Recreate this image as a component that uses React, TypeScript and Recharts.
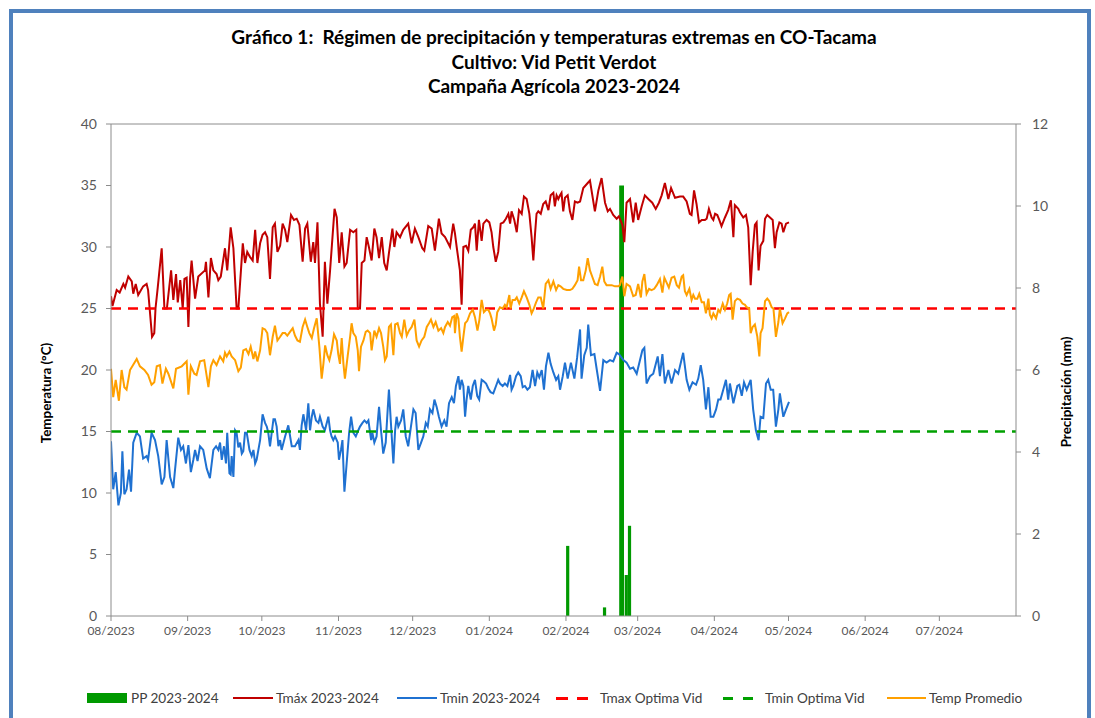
import React from 'react';
import { ComposedChart, Bar, Line, XAxis, YAxis, ReferenceLine } from 'recharts';

// days counted from 2023-08-01
const monthDays = [0, 31, 61, 92, 122, 153, 184, 213, 244, 274, 305, 335];
const monthLabels = ['08/2023', '09/2023', '10/2023', '11/2023', '12/2023', '01/2024', '02/2024', '03/2024', '04/2024', '05/2024', '06/2024', '07/2024'];
const tempTicks = [0, 5, 10, 15, 20, 25, 30, 35, 40];
const ppTicks = [0, 2, 4, 6, 8, 10, 12];

const tmaxOptima = 25;
const tminOptima = 15;

// [day, mm]
const pp: [number, number][] = [[184.7, 1.71], [199.6, 0.21], [206.5, 10.5], [208.4, 1.0], [209.7, 2.2]];

// [day, °C]
const tmax: [number, number][] = [
  [0, 26.0], [0.6, 25.2], [2.3, 26.5], [3.5, 26.3], [5, 27.0], [5.7, 26.7], [7, 27.6], [8.4, 27.2], [9, 26.2], [10, 27.0], [11, 26.1], [13, 26.8], [14.4, 27.0], [15, 26.5], [16.6, 22.7], [17.5, 23.0], [18, 25.0], [18.9, 26.7], [20.5, 29.9], [21.6, 25.0], [22.6, 25.0], [24.3, 28.1], [25.2, 25.7], [26.3, 27.8], [27, 25.5], [28, 27.3], [29, 25.0], [29.7, 27.4], [30.6, 27.5], [31.3, 23.5], [32, 27.5], [32.6, 28.9], [34, 25.8], [35.3, 27.6], [38, 28.1], [38.4, 28.8], [39.4, 25.9], [40.4, 29.1], [41.4, 28.1], [42.7, 27.8], [43.4, 27.3], [44.4, 27.6],
  [46.1, 29.9], [47, 28.1], [48.4, 31.6], [49.5, 29.9], [50.8, 25.0], [51.5, 25.0], [53.3, 30.3], [54.2, 28.7], [55.1, 29.6], [56.2, 29.2], [57.3, 28.9], [58.3, 31.4], [59.2, 28.7], [60.3, 30.3], [61.3, 31.0], [62.3, 31.2], [63.2, 30.8], [64.3, 27.4], [65.4, 31.6], [66.3, 31.9], [67.3, 29.6], [68.4, 30.1], [69.4, 31.9], [70.4, 31.4], [71.3, 30.4], [72.8, 32.6], [74, 32.2], [75.1, 32.3], [76.2, 31.8], [77.5, 28.8], [78.5, 31.5], [79.4, 31.9], [80.8, 28.8], [81.8, 30.4], [82.5, 28.7], [83.5, 32.0], [84.5, 25.4], [85.6, 22.7], [86.5, 28.8], [87.5, 25.4], [88.6, 28.1],
  [90.4, 33.1], [91.3, 32.4], [92.3, 28.7], [93.3, 31.2], [94.4, 28.4], [95.3, 28.7], [96.7, 31.4], [98, 31.2], [99.2, 31.4], [99.8, 25.0], [100.7, 25.0], [101.4, 28.7], [102.5, 28.9], [103.4, 30.8], [104.3, 30.0], [105.4, 28.9], [106.5, 31.5], [107.4, 30.8], [108.4, 29.1], [109.5, 30.8], [110.5, 28.7], [111.5, 28.1], [112.4, 29.5], [113.8, 31.5], [114.6, 30.0], [115.5, 31.2], [116.9, 30.8], [118.2, 31.4], [120.2, 31.9], [121.6, 30.3], [122.9, 31.5], [124.3, 30.8], [125.9, 29.9], [126.7, 29.7], [128.3, 31.7], [129.7, 31.5], [131, 29.7], [132.6, 32.3], [133.7, 31.1], [135.1, 30.8], [137.1, 30.0],
  [138.4, 31.9], [139.1, 31.1], [139.8, 30.0], [141.1, 28.1], [141.8, 25.3], [142.5, 30.0], [143.6, 30.1], [144.5, 29.7], [145.5, 31.4], [146.5, 31.6], [147.2, 31.9], [147.9, 29.7], [148.8, 32.2], [149.9, 30.5], [150.6, 31.9], [151.9, 32.2], [153, 32.0], [153.9, 31.2], [154.6, 30.0], [155.6, 28.8], [156.6, 29.6], [157.6, 31.9], [158.7, 32.0], [159.7, 32.3], [160.7, 32.7], [161.4, 31.9], [162, 32.9], [163.1, 32.2], [164.1, 31.2], [165, 33.0], [166.1, 32.7], [167, 34.1], [168.1, 33.9], [169.2, 32.7], [170.1, 30.8], [170.8, 28.9], [171.5, 31.1], [172.1, 32.7], [172.8, 32.9], [173.8, 32.7], [174.8, 33.5], [175.8, 33.7], [176.9, 33.0], [177.8, 34.2], [178.9, 34.4], [179.5, 33.3], [180.2, 34.2], [180.9, 33.9], [181.6, 34.2], [182.2, 34.4], [182.9, 32.9], [183.6, 34.0],
  [184.7, 34.2], [185.6, 32.9], [186.6, 32.2], [187.6, 33.7], [188.7, 33.6], [189.7, 33.7], [191, 34.8], [192.8, 35.2], [193.7, 35.4], [195.7, 32.9], [197.1, 34.6], [198.4, 35.6], [199.8, 33.6], [200.9, 32.9], [201.8, 33.1], [203.1, 32.6], [204.5, 32.3], [205.4, 32.5], [206.8, 31.8], [207.6, 30.4], [208.5, 33.6], [209.9, 33.9], [211.2, 32.0], [212.2, 33.6], [213.2, 32.2], [214.6, 33.3], [215.9, 34.2], [217.3, 33.9], [218.9, 33.6], [220.3, 33.1], [221.6, 33.6], [222.7, 34.2], [224, 35.2], [225.4, 33.9], [226.5, 34.8], [228.1, 34.0], [230.1, 34.1],
  [231.4, 34.1], [232.8, 33.7], [234.1, 32.7], [234.8, 32.6], [235.8, 34.6], [236.8, 33.5], [237.8, 32.0], [238.9, 32.2], [240.2, 32.2], [240.9, 32.3], [241.8, 33.1], [242.9, 32.4], [243.6, 32.2], [244.3, 32.7], [245.2, 32.6], [246, 32.2], [246.9, 31.7], [248.3, 32.4], [249.6, 33.0], [250.7, 33.8], [251.7, 30.8], [252.3, 33.4], [253.7, 33.1], [254.4, 32.8], [255.7, 32.4], [256.8, 32.6], [257.7, 31.6], [258.7, 26.9], [259.5, 29.6], [260.4, 31.8], [261.1, 32.0], [261.9, 28.1], [262.7, 30.1], [263.8, 30.5], [264.5, 32.3], [265.4, 32.6], [266.5, 32.4], [267.6, 32.2], [268.5, 29.9], [269.2, 31.2], [270.3, 32.0], [271.2, 31.9], [271.9, 31.2], [273, 31.9], [274.2, 32.0],
];

const tmin: [number, number][] = [
  [0, 14.2], [0.9, 10.3], [1.9, 11.7], [3, 9.0], [4, 10.0], [4.6, 13.4], [5.4, 9.9], [6.3, 10.3], [7.3, 11.9], [8.1, 10.1], [9, 14.1], [10.4, 14.9], [11.7, 14.6], [13, 12.8], [14.4, 13.0], [15, 12.7], [16.4, 14.9], [17.8, 14.3], [19.1, 13.0], [20.5, 10.7], [21.6, 11.3], [22.5, 14.3], [23.9, 11.3], [25.2, 10.4], [25.9, 11.9], [27.2, 14.5], [28.3, 13.5], [29.2, 13.8], [30.3, 12.4], [31.3, 13.9], [32.3, 11.7], [33.3, 12.7], [34, 13.5], [35, 12.6], [36, 13.8], [37.3, 13.5], [38.7, 12.0], [40, 11.2], [41.4, 13.5], [42.5, 13.8], [43.4, 13.5], [44.1, 14.1],
  [44.8, 12.7], [45.7, 13.8], [46.5, 12.4], [47, 14.9], [47.9, 11.6], [48.4, 11.5], [48.8, 13.0], [49.5, 11.3], [50.2, 15.1], [50.8, 14.9], [51.5, 13.7], [52.2, 14.1], [52.9, 13.2], [53.5, 13.4], [54.2, 14.9], [54.9, 14.9], [56, 13.5], [56.9, 13.0], [57.6, 13.5], [58.3, 12.4], [58.9, 12.7], [60.3, 14.3], [61.3, 16.4], [62.3, 15.7], [63, 15.4], [63.6, 14.9], [64.3, 13.8], [65, 14.9], [65.7, 16.0], [66.3, 16.0], [67, 15.4], [67.7, 13.8], [68.4, 14.3], [69, 13.5], [70.4, 14.6], [71.7, 15.5], [73.1, 13.8], [74.4, 13.8], [75.8, 14.3], [76.4, 13.5], [77.1, 15.5], [77.8, 16.4], [78.9, 15.1], [79.8, 17.3], [80.5, 15.1], [81.2, 16.2], [81.8, 16.8], [82.9, 15.9], [83.9, 15.7], [84.5, 16.2], [85.6, 15.4], [86.5, 15.1], [87.9, 16.2], [88.6, 15.1], [89.2, 14.6], [89.9, 14.3],
  [90.6, 14.6], [91.7, 14.1], [92.2, 12.7], [93, 13.5], [93.6, 14.3], [94.4, 10.1], [95.3, 12.4], [96.3, 14.9], [97.1, 16.2], [98, 14.9], [99, 14.6], [99.8, 15.0], [100.7, 15.4], [101.7, 15.7], [102.5, 15.9], [103.4, 15.7], [104.1, 15.9], [105.2, 14.3], [105.7, 14.9], [106.5, 14.1], [107.4, 14.6], [108.4, 17.0], [109.2, 15.1], [110.1, 13.2], [111.1, 14.1], [111.9, 16.8], [112.4, 18.4], [113.2, 15.7], [114.2, 12.4], [114.9, 15.1], [115.5, 16.2], [116.2, 15.4], [117.3, 15.9], [118.2, 16.8], [119.2, 14.6], [120.2, 13.8], [121.3, 15.4], [122.3, 16.8], [123.2, 16.5], [124.3, 13.5], [125.4, 14.1], [126.3, 14.6], [127.3, 15.7], [128.1, 15.4], [129, 16.8], [130, 16.5], [130.8, 17.6], [131.7, 17.0], [132.6, 16.2], [133.7, 15.4], [134.8, 15.9], [135.7, 15.4], [136.7, 17.3],
  [137.8, 17.8], [138.7, 17.3], [139.5, 18.7], [140.5, 19.5], [141.1, 18.4], [141.8, 19.2], [142.5, 18.7], [143.2, 16.2], [143.8, 17.6], [144.5, 18.7], [145.5, 17.6], [146.3, 18.7], [147.2, 19.2], [148.1, 17.9], [148.9, 17.6], [149.9, 19.2], [150.6, 19.1], [151.7, 18.9], [152.6, 18.5], [153.5, 18.2], [154.6, 18.1], [155.7, 18.7], [156.6, 19.2], [157.3, 18.9], [158.4, 18.7], [159.3, 18.9], [160.3, 18.7], [161.4, 19.6], [162, 18.4], [162.7, 18.7], [163.8, 19.5], [164.7, 19.8], [165.7, 19.5], [166.5, 18.6], [167.4, 18.7], [168.4, 18.4], [169.4, 18.6], [170.5, 20.0], [171.5, 18.7], [172.4, 19.8], [173.2, 19.4], [174.2, 20.0], [175.1, 18.4], [175.9, 20.3], [176.9, 21.4], [177.8, 20.5], [178.9, 19.8], [180, 19.2], [180.9, 19.5], [181.6, 18.4], [182.7, 19.5], [183.6, 20.6],
  [184.7, 19.3], [186, 20.6], [187.4, 19.3], [188.5, 21.0], [189.7, 23.3], [190.3, 19.3], [191.4, 21.2], [192.4, 21.8], [193, 23.7], [194.1, 21.2], [195.5, 21.3], [196.4, 20.1], [197.8, 18.3], [199.1, 20.8], [200.4, 20.6], [201.8, 20.8], [203.1, 20.7], [204.5, 21.4], [205.4, 21.3], [207.2, 20.8], [208.5, 20.6], [209.9, 20.1], [211.2, 20.2], [212.6, 19.7], [214.9, 21.6], [215.7, 21.8], [216.6, 18.9], [218, 19.5], [219.3, 19.7], [221.1, 21.1], [222, 19.5], [223, 21.3], [224, 18.9], [225.4, 20.0], [226.7, 18.9], [228.1, 20.0], [229.4, 19.7],
  [230.1, 20.3], [231.4, 21.4], [232.8, 19.2], [233.9, 18.4], [235.2, 19.0], [236.6, 18.8], [237.5, 19.3], [238.5, 20.4], [239.5, 19.2], [240.6, 16.8], [241.6, 18.6], [242.5, 16.2], [243.6, 16.2], [244.7, 16.8], [245.6, 17.6], [246.5, 17.6], [247.6, 18.4], [248.7, 19.2], [249.6, 17.6], [250.3, 18.9], [251.7, 17.3], [253.3, 18.7], [254.1, 18.8], [255.1, 17.9], [256, 19.0], [257.1, 18.4], [258.7, 19.2], [259.7, 16.8], [260.8, 15.1], [261.9, 14.3], [262.7, 16.2], [263.8, 16.1], [264.9, 18.9], [265.8, 19.2], [266.8, 18.4], [267.8, 18.4], [268.9, 15.4], [269.9, 16.8], [270.5, 18.1], [271.9, 16.2], [273, 16.8], [274.2, 17.4],
];

const tavg: [number, number][] = [
  [0, 20.1], [0.9, 17.8], [1.9, 19.2], [3.2, 17.5], [4.3, 20.0], [5.4, 18.6], [6.3, 18.4], [7.7, 20.0], [10.4, 20.9], [11.7, 20.3], [13.5, 20.0], [15, 19.6], [16.4, 18.8], [17.5, 19.0], [18.5, 20.3], [19.8, 20.4], [20.8, 18.9], [22.2, 20.1], [23.2, 19.7], [25.2, 18.5], [26.3, 20.1], [28.6, 20.3], [30.6, 20.7], [31.3, 18.0], [32.3, 20.3], [33.7, 19.7], [34.6, 19.6], [36, 20.7], [37.7, 20.8], [39.4, 18.6], [40.4, 20.3], [41.4, 20.8], [42.7, 20.4], [44.1, 21.1],
  [45.4, 20.7], [46.1, 21.4], [46.8, 21.1], [47.9, 21.5], [48.8, 21.1], [50.2, 20.8], [51.5, 19.9], [52.5, 20.2], [53.5, 21.6], [54.6, 21.7], [55.6, 21.3], [56.5, 21.9], [57.6, 20.9], [58.3, 21.5], [59.2, 20.7], [60.3, 21.6], [61.3, 23.4], [62.3, 23.3], [63.2, 23.0], [64.3, 21.2], [65.4, 22.7], [66.3, 23.6], [67.3, 22.4], [68.4, 22.7], [69.4, 23.0], [70.4, 23.0], [71.3, 22.8], [72.4, 23.1], [73.5, 23.4], [74.4, 22.8], [75.4, 22.4], [76.4, 22.3], [77.5, 23.5], [78.5, 24.1], [79.4, 23.5], [80.2, 23.0], [81.2, 22.6], [82.1, 23.4], [83.2, 24.2], [84.3, 21.8], [85.2, 19.3], [85.9, 20.5], [86.6, 22.0], [87.5, 21.2], [88.3, 20.8], [89.2, 21.6], [90.2, 22.9],
  [91.3, 22.4], [91.9, 21.3], [92.6, 20.5], [93.3, 22.6], [94, 20.5], [94.6, 19.3], [95.7, 21.1], [96.7, 22.7], [97.3, 23.8], [98, 23.0], [99, 22.7], [99.8, 21.6], [100.3, 19.9], [101.1, 21.9], [102.1, 22.4], [103, 23.1], [103.8, 23.2], [104.8, 23.0], [105.4, 21.6], [106.5, 23.2], [107.4, 22.7], [108.4, 23.4], [109.2, 23.0], [110.1, 21.9], [110.8, 20.8], [111.5, 21.1], [112.4, 23.5], [113.2, 23.7], [114.2, 21.2], [114.9, 23.7], [115.9, 23.8], [116.9, 23.0], [117.6, 22.7], [118.6, 24.1], [119.6, 22.8], [120.5, 23.2], [121.6, 23.5], [122.7, 24.1], [123.6, 22.4], [124.6, 21.9], [125.6, 22.4], [126.7, 22.7], [127.7, 23.5], [128.6, 23.8], [129.4, 24.1], [130.4, 23.5], [131.3, 23.9], [132.4, 23.2], [133.5, 23.4], [134.4, 23.0], [135.1, 23.5], [136.2, 23.9], [137.1, 23.6],
  [138, 24.3], [138.8, 24.4], [139.1, 23.0], [139.8, 24.6], [140.5, 24.2], [141.1, 22.7], [141.8, 21.5], [142.5, 22.7], [143.2, 23.8], [144.1, 24.0], [145.2, 24.6], [146.3, 24.9], [147.2, 24.3], [148.2, 23.2], [149, 24.1], [149.9, 25.7], [150.8, 24.7], [151.7, 24.9], [152.6, 24.9], [153.3, 24.6], [153.9, 24.2], [154.9, 23.2], [155.6, 23.7], [156.2, 24.7], [157.3, 25.1], [158.4, 25.0], [159.3, 25.3], [160, 25.1], [161.1, 26.1], [161.6, 25.0], [162.4, 25.7], [163.4, 25.7], [164.1, 25.9], [165.1, 25.4], [166.1, 25.9], [167, 26.4], [168.1, 25.9], [169.2, 25.3], [170.1, 24.6], [170.8, 24.9], [171.9, 25.5], [172.8, 25.9], [173.8, 25.9], [174.8, 25.0], [175.8, 27.0], [176.9, 27.3], [177.8, 26.6], [178.9, 27.2], [180, 26.5], [180.9, 26.9], [181.8, 26.8], [182.9, 26.6],
  [184.3, 26.5], [185.6, 26.5], [186.6, 26.6], [187.6, 26.9], [188.7, 27.3], [189.3, 28.4], [190.1, 27.3], [191, 27.3], [192, 28.1], [192.8, 29.1], [193.7, 28.1], [194.6, 27.6], [195.7, 27.0], [196.8, 26.9], [197.8, 27.6], [198.7, 28.4], [199.5, 27.2], [200.4, 26.9], [201.4, 26.9], [202.5, 26.9], [203.8, 26.8], [205.2, 26.8], [205.8, 26.9], [206.8, 27.6], [207.6, 26.0], [208.5, 27.0], [209.9, 26.8], [211.2, 26.0], [212.2, 26.1], [213.2, 27.0], [214.3, 25.9], [214.9, 27.2], [215.7, 27.8], [216.6, 26.2], [217.6, 26.6], [218.6, 26.5], [219.7, 26.6], [220.7, 26.9], [222, 27.4], [223, 26.3], [223.8, 27.5], [224.7, 27.1], [225.6, 26.7], [226.7, 27.5], [227.8, 27.6], [228.8, 26.9], [229.7, 26.7],
  [230.8, 27.6], [231.4, 27.7], [232.1, 26.4], [232.8, 26.1], [233.9, 26.6], [234.8, 25.7], [235.5, 26.1], [236.2, 25.8], [237.1, 25.8], [237.9, 26.2], [238.9, 25.5], [239.8, 25.5], [240.6, 24.6], [241.6, 25.8], [242.2, 24.5], [242.9, 24.2], [243.6, 24.6], [244.7, 24.2], [245.6, 24.9], [246.3, 24.7], [247.4, 25.4], [248.3, 24.9], [249.2, 25.4], [250, 26.1], [250.6, 26.2], [251.4, 24.1], [252.3, 25.6], [253.3, 25.8], [254.4, 25.7], [255.4, 25.4], [256.4, 25.3], [257.1, 25.1], [258.1, 25.0], [258.7, 23.0], [259.5, 23.5], [260.4, 23.7], [261.4, 22.7], [262.2, 21.1], [262.7, 23.0], [263.5, 23.4], [264.5, 25.6], [265.4, 25.8], [266.2, 25.6], [267.2, 25.1], [267.9, 25.0], [268.9, 22.7], [269.9, 23.9], [270.5, 25.0], [271.6, 23.8], [272.6, 24.2], [273.5, 24.6], [274.2, 24.7],
];

const FONT = 'Lato, "Open Sans", sans-serif';
const C_PP = '#009900';
const C_TMAX = '#C00000';
const C_TMIN = '#1F71D1';
const C_TAVG = '#FFA000';
const C_OPT_MAX = '#FF0000';
const C_OPT_MIN = '#00A000';
const AXIS = '#8C8C8C';
const TICK = '#595959';

const ppData = pp.map(([day, v]) => ({ day, pp: v }));
const tmaxData = tmax.map(([day, v]) => ({ day, v }));
const tminData = tmin.map(([day, v]) => ({ day, v }));
const tavgData = tavg.map(([day, v]) => ({ day, v }));

const labelFor = (d: number) => {
  const i = monthDays.indexOf(d);
  return i >= 0 ? monthLabels[i] : '';
};

// bar drawn centred on its day, with a fixed visual width
const PPBar = (props: any) => {
  const { x, y, width, height, payload } = props;
  if (x == null || y == null || !height) return null;
  const w = payload && payload.pp > 5 ? 4.8 : 3.2;
  const cx = x + (width || 0) / 2;
  return <rect x={cx - w / 2} y={y} width={w} height={height} fill={C_PP} />;
};

const legendText: React.CSSProperties = {
  position: 'absolute', top: 690, fontFamily: FONT, fontSize: 13.6, color: '#404040', lineHeight: '16px', whiteSpace: 'nowrap',
};

export default function App() {
  return (
    <div style={{ position: 'absolute', left: 0, top: 0, width: 1095, height: 718, background: '#fff', overflow: 'hidden' }}>
      <div style={{ position: 'absolute', left: 9, top: 9, width: 1074, height: 740, border: '4px solid #4F81BD', boxSizing: 'content-box' }} />
      <div style={{ position: 'absolute', left: 0, width: 1108, top: 25, textAlign: 'center', fontFamily: FONT, fontWeight: 700, fontSize: 19, lineHeight: '24.5px', color: '#000' }}>
        <div>Gráfico 1:&nbsp; Régimen de precipitación y temperaturas extremas en CO-Tacama</div>
        <div>Cultivo: Vid Petit Verdot</div>
        <div>Campaña Agrícola 2023-2024</div>
      </div>
      <div style={{ position: 'absolute', left: 46, top: 393, width: 0, height: 0 }}>
        <div style={{ position: 'absolute', transform: 'translate(-50%, -50%) rotate(-90deg)', fontFamily: FONT, fontWeight: 700, fontSize: 13.4, color: '#000', whiteSpace: 'nowrap' }}>Temperatura (°C)</div>
      </div>
      <div style={{ position: 'absolute', left: 1066, top: 392, width: 0, height: 0 }}>
        <div style={{ position: 'absolute', transform: 'translate(-50%, -50%) rotate(-90deg)', fontFamily: FONT, fontWeight: 700, fontSize: 13.4, color: '#000', whiteSpace: 'nowrap' }}>Precipitación (mm)</div>
      </div>
      <div style={{ position: 'absolute', left: 0, top: 0 }}>
        <ComposedChart width={1095} height={718} data={ppData} margin={{ top: 124, right: 39, bottom: 72, left: 71 }}>
          <XAxis dataKey="day" type="number" domain={[0, 366]} ticks={monthDays} tickFormatter={labelFor} interval={0}
            allowDataOverflow stroke={AXIS} tickSize={5} tickMargin={5} height={30}
            tick={{ fill: TICK, fontSize: 12, fontFamily: FONT }} />
          <YAxis yAxisId="t" orientation="left" domain={[0, 40]} ticks={tempTicks} width={40} stroke={AXIS}
            tickSize={5} tickMargin={9} allowDataOverflow interval={0}
            tick={{ fill: TICK, fontSize: 14, fontFamily: FONT }} />
          <YAxis yAxisId="pp" orientation="right" domain={[0, 12]} ticks={ppTicks} width={40} stroke={AXIS}
            tickSize={5} tickMargin={11} allowDataOverflow interval={0}
            tick={{ fill: TICK, fontSize: 14, fontFamily: FONT }} />
          <ReferenceLine yAxisId="t" y={40} stroke={AXIS} strokeWidth={1} />
          <Bar yAxisId="pp" dataKey="pp" barSize={3} fill={C_PP} shape={PPBar} isAnimationActive={false} />
          <Line yAxisId="t" data={tmaxData} dataKey="v" stroke={C_TMAX} strokeWidth={2} dot={false} isAnimationActive={false} />
          <Line yAxisId="t" data={tminData} dataKey="v" stroke={C_TMIN} strokeWidth={2} dot={false} isAnimationActive={false} />
          <ReferenceLine yAxisId="t" y={tmaxOptima} stroke={C_OPT_MAX} strokeWidth={2.5} strokeDasharray="10 7" />
          <ReferenceLine yAxisId="t" y={tminOptima} stroke={C_OPT_MIN} strokeWidth={2.5} strokeDasharray="10 7" />
          <Line yAxisId="t" data={tavgData} dataKey="v" stroke={C_TAVG} strokeWidth={2} dot={false} isAnimationActive={false} />
        </ComposedChart>
      </div>
      {/* legend */}
      <div style={{ position: 'absolute', left: 87, top: 693, width: 40, height: 10, background: C_PP }} />
      <div style={{ ...legendText, left: 131 }}>PP 2023-2024</div>
      <div style={{ position: 'absolute', left: 233, top: 697, width: 40, height: 2, background: C_TMAX }} />
      <div style={{ ...legendText, left: 276 }}>Tmáx 2023-2024</div>
      <div style={{ position: 'absolute', left: 397, top: 697, width: 40, height: 2, background: C_TMIN }} />
      <div style={{ ...legendText, left: 440 }}>Tmin 2023-2024</div>
      <div style={{ position: 'absolute', left: 556, top: 697, width: 12, height: 3, background: C_OPT_MAX }} />
      <div style={{ position: 'absolute', left: 577, top: 697, width: 11, height: 3, background: C_OPT_MAX }} />
      <div style={{ ...legendText, left: 600 }}>Tmax Optima Vid</div>
      <div style={{ position: 'absolute', left: 723, top: 697, width: 10, height: 3, background: C_OPT_MIN }} />
      <div style={{ position: 'absolute', left: 743, top: 697, width: 10, height: 3, background: C_OPT_MIN }} />
      <div style={{ ...legendText, left: 765 }}>Tmin Optima Vid</div>
      <div style={{ position: 'absolute', left: 887, top: 697, width: 39, height: 2, background: C_TAVG }} />
      <div style={{ ...legendText, left: 929 }}>Temp Promedio</div>
    </div>
  );
}
